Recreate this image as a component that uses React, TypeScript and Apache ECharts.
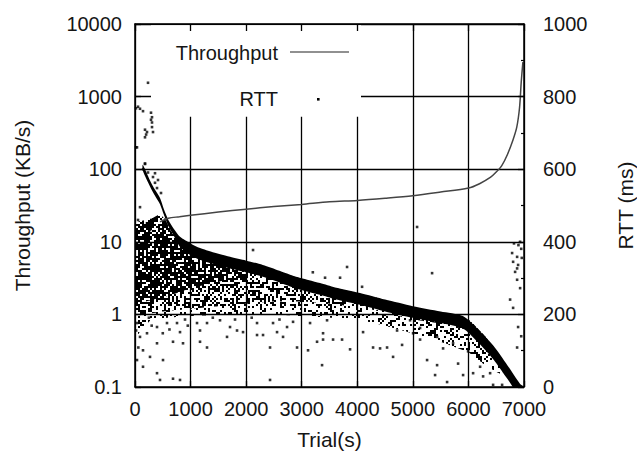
import React, { useEffect, useRef } from 'react';
import * as echarts from 'echarts';

// ---- axis ticks ----
const xTickLabels = ['0', '1000', '2000', '3000', '4000', '5000', '6000', '7000'];
const yLeftTickLabels = ['0.1', '1', '10', '100', '1000', '10000'];
const yRightTickLabels = ['0', '200', '400', '600', '800', '1000'];

// ---- RTT curve (right axis, ms) ----
const rttCurve: [number, number][] = [
  [450, 455], [600, 465], [800, 469], [1000, 473], [1500, 482], [2000, 490], [2500, 497],
  [3000, 503], [3500, 510], [4000, 514], [4500, 520], [5000, 527], [5500, 537], [6000, 548],
  [6200, 560], [6400, 578], [6500, 592], [6600, 610], [6700, 640], [6800, 680], [6870, 716],
  [6920, 770], [6950, 840], [6980, 895],
];

// ---- throughput: dense band of sorted samples (upper edge, then lower edge back) ----
const bandUpper: [number, number][] = [
  [140, 115], [270, 70], [360, 52], [450, 40], [520, 28], [600, 20], [700, 15], [810, 11.7],
  [1000, 9.5], [1170, 8.2], [1400, 7.2], [1710, 6.2], [2000, 5.5], [2300, 4.8], [2600, 4.0],
  [2900, 3.3], [3330, 2.7], [3600, 2.35], [4050, 1.97], [4500, 1.6], [5000, 1.3], [5500, 1.1],
  [5900, 0.95], [6150, 0.65], [6450, 0.37], [6700, 0.2], [6930, 0.11], [7000, 0.1],
];
const bandLower: [number, number][] = [
  [6930, 0.075], [6700, 0.13], [6450, 0.24], [6150, 0.43], [5900, 0.64], [5500, 0.76],
  [5000, 0.9], [4500, 1.1], [4050, 1.36], [3600, 1.62], [3330, 1.86], [2900, 2.28], [2600, 2.76],
  [2300, 3.3], [2000, 3.8], [1710, 4.28], [1400, 4.97], [1170, 5.65], [1000, 6.55], [810, 8.5],
  [700, 12], [600, 16.5], [520, 23.5], [450, 33], [360, 43], [270, 58], [140, 96],
];

// ---- throughput: overlapping regions filled with samples (sparse, medium, dense) ----
const cloudSparse: [number, number][] = [
  [0, 18], [300, 21], [450, 24], [550, 20], [650, 14], [800, 10], [1000, 8.5], [1500, 6.2],
  [2000, 5.0], [2500, 4.0], [3000, 3.1], [3500, 2.4], [4200, 1.8], [5000, 1.25], [5500, 1.05],
  [6000, 0.85], [6300, 0.5], [6600, 0.25], [6600, 0.15], [6300, 0.2], [6000, 0.3], [5500, 0.42],
  [5000, 0.55], [4500, 0.7], [4000, 0.85], [3500, 0.9], [3000, 0.95], [2500, 1.0], [2000, 1.0],
  [1500, 0.98], [1000, 0.95], [600, 0.9], [300, 0.85], [100, 0.6], [0, 0.45],
];
const cloudMedium: [number, number][] = [
  [0, 18], [300, 21], [450, 24], [550, 20], [650, 14], [800, 10], [1000, 8.5], [1500, 6.2],
  [2000, 5.0], [2500, 4.0], [3000, 3.1], [3500, 2.4], [4200, 1.8], [5000, 1.25], [5500, 1.05],
  [6000, 0.85], [6300, 0.5], [6300, 0.4], [6000, 0.6], [5500, 0.75], [5000, 0.85], [4200, 1.2],
  [3500, 1.4], [3000, 1.5], [2500, 1.5], [2000, 1.4], [1500, 1.3], [1000, 1.2], [500, 1.1], [0, 1.0],
];
const cloudDense: [number, number][] = [
  [0, 18], [300, 21], [450, 24], [550, 20], [650, 14], [800, 10], [1000, 8.5], [1500, 6.2],
  [1800, 5.5], [1800, 3.5], [1500, 2.8], [1000, 2.3], [600, 1.8], [200, 1.5], [0, 1.3],
];

// ---- throughput: individual scattered samples ----
const scatterDots: [number, number][] = [
  [234, 1550], [54, 725], [90, 680], [18, 690], [144, 630], [306, 520], [306, 440], [306, 380],
  [288, 600], [288, 480], [216, 325], [324, 325], [180, 350], [200, 300], [180, 275], [36, 200],
  [18, 200], [180, 118], [144, 100], [180, 120], [234, 90], [324, 78], [360, 65], [360, 88],
  [396, 55], [414, 71], [468, 47], [90, 30], [54, 20], [216, 18], [270, 14.5],
  [36, 0.76], [90, 0.49], [216, 0.55], [396, 0.67], [576, 0.76], [756, 0.76], [810, 0.57],
  [684, 0.42], [864, 0.4], [396, 0.4], [504, 0.235], [270, 0.26], [144, 0.32], [36, 0.235],
  [450, 0.125], [684, 0.13], [810, 0.125], [396, 0.155], [144, 0.19], [20, 0.6], [60, 0.35],
  [300, 0.7], [500, 0.55], [620, 0.62], [950, 0.7], [900, 0.85], [250, 0.9],
  [1116, 0.76], [1170, 0.6], [1296, 0.76], [1530, 0.83], [1710, 0.67], [1836, 0.6],
  [1170, 0.42], [1296, 0.35], [1656, 0.49], [1944, 0.57], [1400, 0.9], [1800, 0.85],
  [2196, 0.76], [2304, 0.52], [2484, 0.76], [2556, 0.57], [2664, 0.49], [2736, 0.67],
  [2844, 0.79], [2916, 0.35], [2430, 0.35], [2196, 0.52], [2430, 0.125], [2100, 0.9], [2600, 0.85],
  [3150, 0.76], [3276, 0.42], [3384, 0.45], [3366, 0.2], [3114, 0.32],
  [5076, 16], [5346, 3.7], [3816, 4.5], [3690, 3.2], [3420, 3.2], [4086, 2.4], [2124, 7.7], [3200, 3.8],
  [6930, 10], [6876, 6.2], [6804, 5.3], [6894, 4.8], [6876, 4.3], [6840, 3.85], [6876, 3.0],
  [6930, 2.3], [6750, 1.6], [6804, 1.23], [6876, 0.35], [6894, 0.67], [6786, 7.0], [6950, 8],
  [6900, 9], [6960, 6], [6820, 9.5], [6950, 0.5],
  [3384, 0.55], [3564, 0.45], [3726, 0.45], [3870, 0.33], [3456, 0.83], [4104, 0.57],
  [4284, 0.35], [4410, 0.34], [4536, 0.35], [4644, 0.26], [4806, 0.38], [5004, 0.55],
  [5130, 0.45], [5256, 0.235], [5436, 0.2], [5616, 0.117], [5400, 0.146], [5544, 0.34],
  [5814, 0.21], [5904, 0.146], [6084, 0.155], [6264, 0.14], [6390, 0.155], [6210, 0.19],
  [5994, 0.31], [5724, 0.4], [5436, 0.49], [5130, 0.65], [4716, 0.6], [4950, 0.83],
  [6606, 0.107], [6444, 0.107],
];

const polygons: [number, number][][] = [
  cloudSparse, cloudMedium, cloudDense, [...bandUpper, ...bandLower],
];
// share of the area covered by dots, per polygon (last = solid band)
const polygonDensity = [0.28, 0.3, 0.55, 1];

const FONT = '"Liberation Sans", Arial, Helvetica, sans-serif';
const TXT = '#151515';

function fmtNum(v: number): string {
  return String(Number(Number(v).toPrecision(6)));
}

// dotted texture for the sample clouds (deterministic integer hash of the cell position)
function cellHash(i: number, j: number, seed: number): number {
  let h = (Math.imul(i, 374761393) + Math.imul(j, 668265263) + Math.imul(seed, 1442695041)) | 0;
  h = Math.imul(h ^ (h >>> 13), 1274126177);
  h ^= h >>> 16;
  return (h >>> 0) / 4294967296;
}

function speckle(density: number, seed: number): any {
  if (density >= 1) return '#000';
  const cells = 48;
  const cell = 2;
  const c = document.createElement('canvas');
  c.width = cells * cell;
  c.height = cells * cell;
  const ctx = c.getContext('2d')!;
  ctx.fillStyle = '#000';
  for (let i = 0; i < cells; i++) {
    for (let j = 0; j < cells; j++) {
      if (cellHash(i, j, seed) < density) ctx.fillRect(i * cell, j * cell, cell, cell);
    }
  }
  return { image: c, repeat: 'repeat', imageWidth: c.width, imageHeight: c.height };
}

export default function App() {
  const ref = useRef<HTMLDivElement>(null);
  useEffect(() => {
    const chart = echarts.init(ref.current!, null, { renderer: 'svg' });
    const fills = polygonDensity.map((d, i) => speckle(d, i + 1));
    const axisLine = { show: true, onZero: false, lineStyle: { color: '#000', width: 1.5 } };
    const labelStyle = { color: TXT, fontSize: 20, fontFamily: FONT };
    const nameStyle = { color: TXT, fontSize: 21, fontFamily: FONT };
    const option: any = {
      animation: false,
      backgroundColor: '#fff',
      grid: { left: 135, right: 113, top: 24, bottom: 64, containLabel: false, outerBoundsMode: 'none' },
      xAxis: [
        {
          type: 'value', position: 'bottom', min: 0, max: 7000, interval: 1000,
          axisLine, axisTick: { show: true, inside: true, length: 6, lineStyle: { color: '#000', width: 1.3 } },
          axisLabel: { ...labelStyle, margin: 12, formatter: (v: number) => xTickLabels[Math.round(v / 1000)] ?? fmtNum(v) },
          splitLine: { show: true, lineStyle: { color: '#000', width: 1.3 } },
          name: 'Trial(s)', nameLocation: 'middle', nameGap: 42, nameTextStyle: nameStyle, nameMoveOverlap: false,
        },
        {
          type: 'value', position: 'top', min: 0, max: 7000, interval: 1000, z: 5,
          axisLine, axisTick: { show: true, inside: true, length: 7, lineStyle: { color: '#000', width: 1.3 } },
          axisLabel: { show: false }, splitLine: { show: false },
        },
      ],
      yAxis: [
        {
          type: 'log', logBase: 10, position: 'left', min: 0.1, max: 10000, splitNumber: 5,
          axisLine, axisTick: { show: true, inside: true, length: 6, lineStyle: { color: '#000', width: 1.3 } },
          axisLabel: {
            ...labelStyle, margin: 13,
            formatter: (v: number) => yLeftTickLabels[Math.round(Math.log10(v)) + 1] ?? fmtNum(v),
          },
          splitLine: { show: true, lineStyle: { color: '#000', width: 1.3 } },
          name: 'Throughput (KB/s)', nameLocation: 'middle', nameGap: 102, nameTextStyle: nameStyle, nameMoveOverlap: false,
        },
        {
          type: 'value', position: 'right', min: 0, max: 1000, interval: 200, z: 5,
          axisLine, axisTick: { show: true, inside: true, length: 6, lineStyle: { color: '#000', width: 1.3 } },
          minorTick: { show: true, splitNumber: 2, length: 3, lineStyle: { color: '#000', width: 1.2 } },
          axisLabel: { ...labelStyle, margin: 19, formatter: (v: number) => yRightTickLabels[Math.round(v / 200)] ?? fmtNum(v) },
          splitLine: { show: false },
          name: 'RTT (ms)', nameLocation: 'middle', nameGap: 91, nameTextStyle: nameStyle, nameMoveOverlap: false,
        },
      ],
      series: [
        {
          type: 'custom', coordinateSystem: 'cartesian2d', xAxisIndex: 0, yAxisIndex: 0, clip: true, silent: true, z: 2,
          data: polygons.map((p, i) => [p[0][0], p[0][1], i]),
          encode: { x: 0, y: 1 },
          renderItem: (_params: any, api: any) => {
            const i = api.value(2);
            const pts = polygons[i].map((p) => api.coord(p));
            return {
              type: 'polygon',
              shape: { points: pts, smooth: i === polygons.length - 1 ? 0.25 : 0.1 },
              style: { fill: fills[i], stroke: 'none' },
            };
          },
        },
        {
          type: 'scatter', xAxisIndex: 0, yAxisIndex: 0, data: scatterDots, symbol: 'rect', symbolSize: 2.6,
          itemStyle: { color: '#000' }, silent: true, z: 3,
        },
        {
          type: 'line', xAxisIndex: 0, yAxisIndex: 1, data: rttCurve, smooth: 0.3, showSymbol: false,
          lineStyle: { color: '#444', width: 1.5 }, silent: true, z: 4,
        },
      ],
      graphic: [
        { type: 'rect', shape: { x: 151, y: 25.2, width: 210, height: 91.5 }, style: { fill: '#fff' }, z: 3 },
        {
          type: 'text', x: 278, y: 53, z: 10,
          style: { text: 'Throughput', fontSize: 20, fontFamily: FONT, fill: TXT, align: 'right', verticalAlign: 'middle' },
        },
        { type: 'line', shape: { x1: 290, y1: 52, x2: 349, y2: 52 }, style: { stroke: '#222', lineWidth: 1.2 }, z: 10 },
        {
          type: 'text', x: 278, y: 99, z: 10,
          style: { text: 'RTT', fontSize: 20, fontFamily: FONT, fill: TXT, align: 'right', verticalAlign: 'middle' },
        },
        { type: 'rect', shape: { x: 317, y: 98, width: 2.6, height: 2.6 }, style: { fill: '#000' }, z: 10 },
      ],
    };
    chart.setOption(option);
    return () => chart.dispose();
  }, []);
  return <div ref={ref} style={{ position: 'fixed', left: 0, top: 0, width: 637, height: 451 }} />;
}
